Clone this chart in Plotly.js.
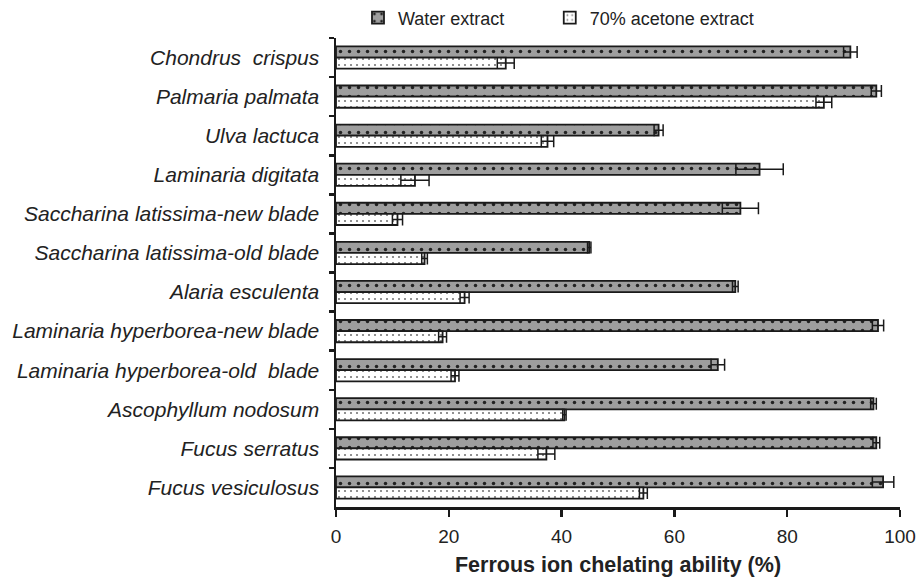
<!DOCTYPE html>
<html>
<head>
<meta charset="utf-8">
<script src="https://cdn.plot.ly/plotly-3.0.1.min.js"></script>
<style>html,body{margin:0;padding:0;background:#fff}#chart{width:919px;height:583px}</style>
</head>
<body>
<div id="chart"></div>
<script>
const species = [
  "Chondrus  crispus",
  "Palmaria palmata",
  "Ulva lactuca",
  "Laminaria digitata",
  "Saccharina latissima-new blade",
  "Saccharina latissima-old blade",
  "Alaria esculenta",
  "Laminaria hyperborea-new blade",
  "Laminaria hyperborea-old  blade",
  "Ascophyllum nodosum",
  "Fucus serratus",
  "Fucus vesiculosus"
];
const waterValues = [91.2, 95.8, 57.2, 75.1, 71.7, 44.9, 70.8, 96.1, 67.7, 95.3, 95.8, 97.0];
const waterErrors = [1.2, 0.9, 0.8, 4.2, 3.2, 0.3, 0.5, 1.0, 1.2, 0.5, 0.6, 1.9];
const acetoneValues = [30.1, 86.5, 37.5, 14.0, 10.9, 15.7, 22.8, 18.9, 21.1, 40.5, 37.3, 54.5];
const acetoneErrors = [1.5, 1.4, 1.1, 2.5, 0.9, 0.5, 0.8, 0.7, 0.7, 0.3, 1.5, 0.7];
const xTicks = [0, 20, 40, 60, 80, 100];

// category boundaries for the crossing tick marks on the y axis
const yBoundaries = [];
for (let i = 0; i <= species.length; i++) yBoundaries.push(i - 0.5);

const traces = [
  {
    type: "bar", orientation: "h", name: "Water extract", legend: "legend",
    y: species, x: waterValues,
    error_x: {type: "data", array: waterErrors, visible: true, color: "#1a1a1a", thickness: 1.5, width: 6},
    marker: {color: "#9e9e9e", line: {color: "#1a1a1a", width: 1.8},
      pattern: {shape: ".", fgcolor: "#222", bgcolor: "#9e9e9e", size: 9, solidity: 0.12}}
  },
  {
    type: "bar", orientation: "h", name: "70% acetone extract", legend: "legend2",
    y: species, x: acetoneValues,
    error_x: {type: "data", array: acetoneErrors, visible: true, color: "#1a1a1a", thickness: 1.5, width: 6},
    marker: {color: "#ffffff", line: {color: "#1a1a1a", width: 1.8},
      pattern: {shape: ".", fgcolor: "#777", bgcolor: "#ffffff", size: 6, solidity: 0.1}}
  }
];

const axisColor = "#1a1a1a";
const legendFont = {size: 18, color: "#222"};
const layout = {
  width: 919, height: 583,
  margin: {l: 336, r: 19, t: 38, b: 76, autoexpand: false},
  paper_bgcolor: "#fff", plot_bgcolor: "#fff",
  font: {family: "Liberation Sans, Arial, sans-serif", color: "#222"},
  barmode: "group", bargap: 0.43, bargroupgap: 0,
  showlegend: true,
  legend: {orientation: "h", x: 0.039, xanchor: "left", y: 1.043, yanchor: "middle",
    font: legendFont, itemwidth: 30, bgcolor: "rgba(0,0,0,0)"},
  legend2: {orientation: "h", x: 0.379, xanchor: "left", y: 1.043, yanchor: "middle",
    font: legendFont, itemwidth: 30, bgcolor: "rgba(0,0,0,0)"},
  xaxis: {
    range: [0, 100], tickvals: xTicks, ticktext: xTicks.map(String),
    showgrid: false, zeroline: false, showline: true, linecolor: axisColor, linewidth: 2.5,
    ticks: "outside", ticklen: 7, tickwidth: 2.5, tickcolor: axisColor,
    tickfont: {size: 19, color: "#222"}, ticklabelstandoff: 4,
    title: {text: "<b>Ferrous ion chelating ability (%)</b>", font: {size: 21.5, color: "#222"}, standoff: 11}
  },
  xaxis2: {
    overlaying: "x", matches: "x", range: [0, 100], tickvals: xTicks,
    showticklabels: false, showgrid: false, zeroline: false, showline: false,
    ticks: "inside", ticklen: 7, tickwidth: 2.5, tickcolor: axisColor, side: "bottom", anchor: "y"
  },
  yaxis: {
    autorange: "reversed", type: "category",
    showgrid: false, zeroline: false, showline: true, linecolor: axisColor, linewidth: 2.5,
    ticks: "outside", tickson: "boundaries", ticklen: 5, tickwidth: 2.5, tickcolor: axisColor,
    tickfont: {size: 21, color: "#222", style: "italic"}, ticklabelstandoff: 10
  },
  yaxis2: {
    overlaying: "y", range: [species.length - 0.5, -0.5], tickvals: yBoundaries,
    showticklabels: false, showgrid: false, zeroline: false, showline: false,
    ticks: "inside", ticklen: 6, tickwidth: 2.5, tickcolor: axisColor, side: "left", anchor: "x"
  }
};

Plotly.newPlot("chart", traces, layout, {displayModeBar: false, staticPlot: true});
</script>
</body>
</html>
